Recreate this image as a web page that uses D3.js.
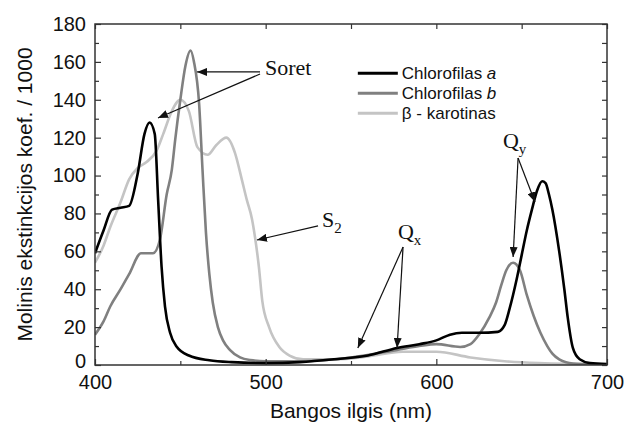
<!DOCTYPE html>
<html>
<head>
<meta charset="utf-8">
<script src="https://cdn.jsdelivr.net/npm/d3@7"></script>
<style>
  body { margin: 0; background: #fff; }
  svg { display: block; }
  .tick text { font-family: "Liberation Sans", Arial, sans-serif; font-size: 20px; fill: #111; }
  .ann { font-family: "Liberation Serif", "Times New Roman", serif; fill: #111; }
</style>
</head>
<body>
<div id="chart"></div>
<script>
// Absorption spectra - chlorophyll a, b and beta-carotene
const xTicks = [400, 500, 600, 700];
const xMinor = [450, 550, 650];
const yTicks = [0, 20, 40, 60, 80, 100, 120, 140, 160, 180];
const yMinor = [10, 30, 50, 70, 90, 110, 130, 150, 170];

const seriesNames = ["Chlorofilas a", "Chlorofilas b", "\u03b2 - karotinas"];

const chlAWl = [400,405,410,415,420,425,429,432,435,437,439,441,444,448,455,467,480,500,520,540,560,577,590,600,608,615,625,636,640,643,647,650,653,656,659,662,664,666,668,672,675,677,680,684,690,700];
const chlAVal = [59,71,82,83,84,101,122,128,122,87,52,31,17,9.5,5,2.5,1.5,1,1.5,3,5,9,11,13,16,17,17,17.5,21,30,45,58,71,82,92,97,96,90,82,60,40,25,9,3,1,0.5];

const chlBWl = [400,405,409,415,420,427,434,438,442,445,447,450,453,456,458,461,463,465,467,469,472,475,479,485,491,500,520,550,577,590,600,614,620,625,631,635,638,641,645,649,653,657,661,665,668,672,676,685,700];
const chlBVal = [16,23,31,40,48,59,59,66,90,103,119,140,158,166,160,138,103,70,48,33,20,13,8,4,2.6,2,2,4,8,10,11,9.5,11,16,25,33,42,50,54,50,37,26,17,10,6,3,1.5,0.5,0.2];

const carWl = [400,405,409,415,420,425,430,436,440,445,450,455,460,466,471,477,482,486,489,492,494,496,498,502,508,514,522,540,560,580,600,620,640,660,700];
const carVal = [54,63,73,86,98,104,107,113,122,134,140,134,115,111,116,120,112,98,87,77,66,52,34,20,9.5,5,3,3,4.5,7,7,4,2,1,0.3];

const seriesColors = ["#000000", "#808080", "#c4c4c4"];

// annotations in data units: [text, sub, x, y] and arrows [x0, y0, x1, y1]
const annLabels = [
  ["Soret", "", 499.6, 153],
  ["S", "2", 533, 73],
  ["Q", "x", 577.5, 66.5],
  ["Q", "y", 639, 114.6]
];
const annArrows = [
  [496.7, 154.7, 459.8, 154.7],
  [496.7, 153.6, 436.9, 130.4],
  [530.7, 73.4, 494.9, 66],
  [580.5, 62.3, 554, 9],
  [580.5, 62.3, 577, 9],
  [647.9, 109.3, 657.8, 86],
  [647.9, 109.3, 645, 57]
];

const W = 629, H = 433;
const margin = { top: 24, right: 22, bottom: 68, left: 95 };
const iw = W - margin.left - margin.right;
const ih = H - margin.top - margin.bottom;

const svg = d3.select("#chart").append("svg")
  .attr("width", W).attr("height", H);

const defs = svg.append("defs");
defs.append("clipPath").attr("id", "clip")
  .append("rect").attr("width", iw).attr("height", ih);
defs.append("marker")
  .attr("id", "arrow")
  .attr("viewBox", "0 0 10 8")
  .attr("refX", 10).attr("refY", 4)
  .attr("markerWidth", 10).attr("markerHeight", 8)
  .attr("markerUnits", "userSpaceOnUse")
  .attr("orient", "auto")
  .append("path").attr("d", "M0,0 L10,4 L0,8 Z").attr("fill", "#111");

const g = svg.append("g").attr("transform", `translate(${margin.left},${margin.top})`);

const x = d3.scaleLinear().domain([400, 700]).range([0, iw]);
const y = d3.scaleLinear().domain([0, 180]).range([ih, 0]);

// curves
const series = [
  chlAWl.map((w, i) => [w, chlAVal[i]]),
  chlBWl.map((w, i) => [w, chlBVal[i]]),
  carWl.map((w, i) => [w, carVal[i]])
];
const line = d3.line()
  .x(d => x(d[0])).y(d => y(d[1]))
  .curve(d3.curveMonotoneX);

const plot = g.append("g").attr("clip-path", "url(#clip)");
[2, 1, 0].forEach(i => {
  plot.append("path")
    .attr("d", line(series[i]))
    .attr("fill", "none")
    .attr("stroke", seriesColors[i])
    .attr("stroke-width", 2.6)
    .attr("stroke-linejoin", "round");
});

// axes with inward ticks
function styleAxis(sel) {
  sel.select(".domain").remove();
  sel.selectAll(".tick line").attr("stroke", "#333").attr("stroke-width", 1.2);
}
g.append("g").attr("transform", `translate(0,${ih})`)
  .call(d3.axisBottom(x).tickValues(xTicks).tickSizeInner(-6).tickSizeOuter(0).tickPadding(10).tickFormat(d3.format("d")))
  .call(styleAxis);
g.append("g").attr("transform", `translate(0,${ih})`)
  .call(d3.axisBottom(x).tickValues(xMinor).tickSize(-4).tickFormat(""))
  .call(styleAxis);
g.append("g")
  .call(d3.axisTop(x).tickValues(xTicks.concat(xMinor)).tickSize(-5).tickFormat(""))
  .call(styleAxis);
const yAxisG = g.append("g")
  .call(d3.axisLeft(y).tickValues(yTicks).tickSizeInner(-6).tickSizeOuter(0).tickPadding(9))
  .call(styleAxis);
// the "0" sits a little higher so it clears the "400" below it
yAxisG.selectAll(".tick").filter(d => d === 0).select("text").attr("dy", "0.1em");
g.append("g")
  .call(d3.axisLeft(y).tickValues(yMinor).tickSize(-4).tickFormat(""))
  .call(styleAxis);
g.append("g").attr("transform", `translate(${iw},0)`)
  .call(d3.axisRight(y).tickValues(yTicks.concat(yMinor)).tickSize(-5).tickFormat(""))
  .call(styleAxis);

g.append("rect")
  .attr("width", iw).attr("height", ih)
  .attr("fill", "none").attr("stroke", "#333").attr("stroke-width", 1.5);

// axis titles
svg.append("text")
  .attr("x", margin.left + iw / 2).attr("y", 418)
  .attr("text-anchor", "middle")
  .style("font-family", "'Liberation Sans', Arial, sans-serif")
  .style("font-size", "21px").attr("fill", "#111")
  .text("Bangos ilgis (nm)");
svg.append("text")
  .attr("transform", `translate(32,${margin.top + ih / 2}) rotate(-90)`)
  .attr("text-anchor", "middle")
  .style("font-family", "'Liberation Sans', Arial, sans-serif")
  .style("font-size", "21px").attr("fill", "#111")
  .text("Molinis ekstinkcijos koef. / 1000");

// legend
const legend = g.append("g").attr("transform", `translate(${x(554)},${y(154)})`);
seriesNames.forEach((name, i) => {
  const row = legend.append("g").attr("transform", `translate(0,${i * 20})`);
  row.append("line").attr("x1", 0).attr("x2", 40)
    .attr("stroke", seriesColors[i]).attr("stroke-width", 3);
  const t = row.append("text").attr("x", 44).attr("y", 6)
    .style("font-family", "'Liberation Sans', Arial, sans-serif")
    .style("font-size", "17px").attr("fill", "#111");
  if (i < 2) {
    t.append("tspan").text(name.slice(0, -1));
    t.append("tspan").style("font-style", "italic").text(name.slice(-1));
  } else {
    t.text(name);
  }
});

// annotations
annArrows.forEach(a => {
  g.append("line")
    .attr("x1", x(a[0])).attr("y1", y(a[1]))
    .attr("x2", x(a[2])).attr("y2", y(a[3]))
    .attr("stroke", "#111").attr("stroke-width", 1.2)
    .attr("marker-end", "url(#arrow)");
});
annLabels.forEach(a => {
  const t = g.append("text").attr("class", "ann")
    .attr("x", x(a[2])).attr("y", y(a[3]))
    .style("font-size", "22px");
  t.append("tspan").text(a[0]);
  if (a[1]) t.append("tspan").attr("dy", 6).style("font-size", "15px").text(a[1]);
});
</script>
</body>
</html>
